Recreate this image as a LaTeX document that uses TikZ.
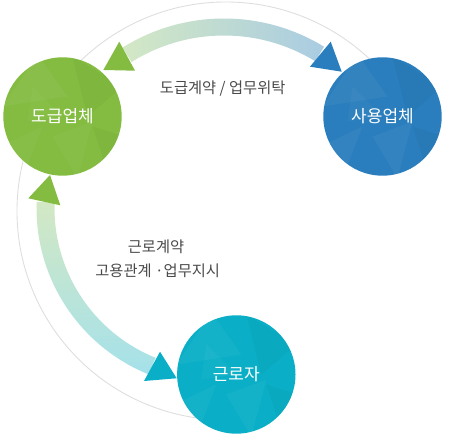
\documentclass[tikz,border=0pt]{standalone}
\usepackage{fontspec}
\newfontfamily\kr{Noto Sans CJK KR}
\usetikzlibrary{calc}
\definecolor{cgreen}{HTML}{83BC41}
\definecolor{cblue}{HTML}{2A7EBD}
\definecolor{cteal}{HTML}{0AAFC7}
\definecolor{ctxt}{HTML}{4A4A4A}
\definecolor{cring}{HTML}{DEDEDE}
\definecolor{bandG}{HTML}{D3E8C4}
\definecolor{bandB}{HTML}{A9CCE2}
\definecolor{bandC}{HTML}{A5E1EA}
\newcommand\myfacets[1]{%
  \begin{scope}
    \clip (#1) circle (59.2);
    \begin{scope}[shift={(#1)}]
      \fill[white,opacity=.045] (-60,10) -- (-25,62) -- (5,20) -- cycle;
      \fill[white,opacity=.04] (-62,-30) -- (-20,-10) -- (-40,-62) -- cycle;
      \fill[black,opacity=.03] (10,60) -- (60,30) -- (25,0) -- cycle;
      \fill[white,opacity=.04] (-10,-20) -- (30,-5) -- (15,-62) -- cycle;
      \fill[black,opacity=.03] (30,-10) -- (62,-20) -- (45,-55) -- cycle;
      \fill[white,opacity=.03] (-30,30) -- (0,0) -- (-35,-5) -- cycle;
    \end{scope}
  \end{scope}}
\begin{document}
\begin{tikzpicture}[x=1pt,y=1pt,
  entity/.style={circle, minimum size=118.4pt, inner sep=0pt, text=white,
    font=\kr\fontsize{17}{19}\selectfont},
  lbl/.style={text=ctxt, font=\kr\fontsize{15.3}{17}\selectfont, inner sep=0pt}]
\useasboundingbox (0,0) rectangle (454,446);
% outer ring
\coordinate (ring) at (226,235);
\draw[cring, line width=0.9pt] ($(ring)+(35:209)$) arc[start angle=35, end angle=285, radius=209];
% top band
\coordinate (tc) at (224,236);
\shade[left color=bandG, right color=bandB]
  ($(tc)+(58.5:191.5)$) arc[start angle=58.5, end angle=122, radius=191.5]
  -- ($(tc)+(122:174.5)$) arc[start angle=122, end angle=58.5, radius=174.5] -- cycle;
% left band
\coordinate (lc) at (216,238);
\shade[top color=bandG, bottom color=bandC]
  ($(lc)+(178:179.5)$) arc[start angle=178, end angle=248, radius=179.5]
  -- ($(lc)+(248:161.5)$) arc[start angle=248, end angle=178, radius=161.5] -- cycle;
% circles
\node[entity, fill=cgreen] (sub) at (62.5,329.5) {};
\node[entity, fill=cblue] (user) at (382.5,329.5) {};
\node[entity, fill=cteal] (worker) at (236.3,71.5) {};
\myfacets{sub.center}
\myfacets{user.center}
\myfacets{worker.center}
\node[entity] (subt) at (sub.center) {도급업체};
\node[entity] (usert) at (user.center) {사용업체};
\node[entity] (workert) at (worker.center) {근로자};
% arrowheads
\fill[cgreen] (103.3,376) -- (119.3,404.3) -- (135,375.3) -- cycle;
\fill[cblue] (341.7,374.3) -- (330.7,404.3) -- (310,379.3) -- cycle;
\fill[cgreen] (50,271) -- (28.3,247.7) -- (60.3,240.7) -- cycle;
\fill[cteal] (176.7,67.7) -- (160,94.3) -- (144,65) -- cycle;
% labels
\node[lbl] (l1) at (222.7,357) {도급계약 / 업무위탁};
\node[lbl] (l2) at (156,199.3) {근로계약};
\node[lbl] (l3) at (157.7,175.3) {고용관계 ·업무지시};
\end{tikzpicture}
\end{document}
